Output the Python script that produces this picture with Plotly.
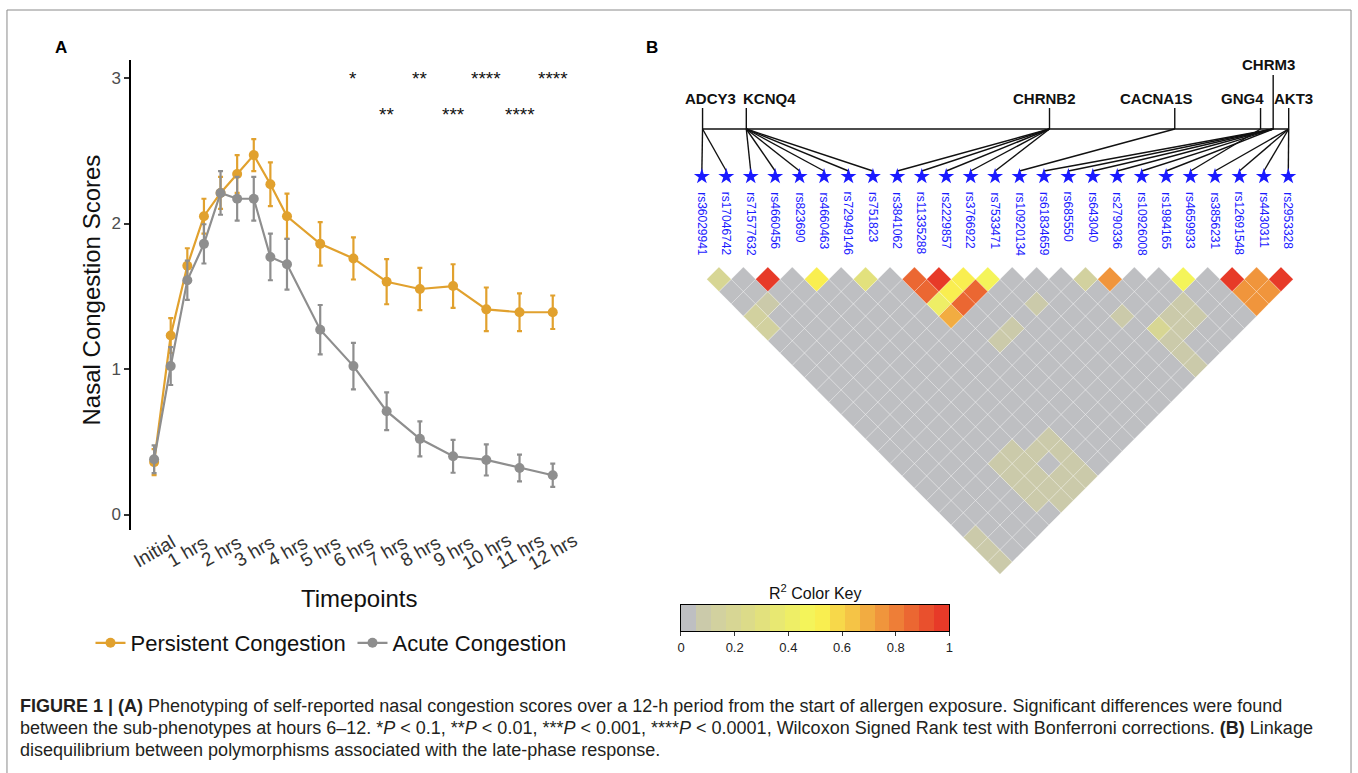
import plotly.graph_objects as go

W, H = 1358, 773
OFF = 0  # body margin is removed by the post script below
FONT = "Liberation Sans, Arial, sans-serif"

# ---------------- Panel A data ----------------
TIME_HOURS = [0, 0.5, 1, 1.5, 2, 2.5, 3, 3.5, 4, 5, 6, 7, 8, 9, 10, 11, 12]
PERSISTENT_MEAN = [0.36, 1.23, 1.71, 2.05, 2.21, 2.34, 2.47, 2.27, 2.05, 1.86, 1.76, 1.60, 1.55, 1.57, 1.41, 1.39, 1.39]
PERSISTENT_ERR = [0.09, 0.12, 0.12, 0.12, 0.11, 0.13, 0.11, 0.15, 0.155, 0.15, 0.145, 0.155, 0.145, 0.15, 0.15, 0.13, 0.115]
ACUTE_MEAN = [0.38, 1.02, 1.61, 1.86, 2.21, 2.17, 2.17, 1.77, 1.72, 1.27, 1.02, 0.71, 0.52, 0.40, 0.375, 0.32, 0.27]
ACUTE_ERR = [0.095, 0.13, 0.135, 0.135, 0.15, 0.15, 0.15, 0.16, 0.175, 0.17, 0.16, 0.13, 0.12, 0.113, 0.107, 0.092, 0.08]
TICK_HOURS = [0, 1, 2, 3, 4, 5, 6, 7, 8, 9, 10, 11, 12]
TICK_LABELS = ["Initial", "1 hrs", "2 hrs", "3 hrs", "4 hrs", "5 hrs", "6 hrs",
               "7 hrs", "8 hrs", "9 hrs", "10 hrs", "11 hrs", "12 hrs"]
Y_TICKS = [0, 1, 2, 3]
SIG_HOURS = [6, 7, 8, 9, 10, 11, 12]
SIG_LABELS = ["*", "**", "**", "***", "****", "****", "****"]
SERIES_NAMES = ["Persistent Congestion", "Acute Congestion"]

# ---------------- Panel B data ----------------
SNPS = ["rs36029941", "rs17046742", "rs71577632", "rs4660456", "rs823690", "rs4660463",
        "rs72949146", "rs751823", "rs3841062", "rs11335288", "rs2229857", "rs3766922",
        "rs7533471", "rs10920134", "rs61834659", "rs685550", "rs643040", "rs2790336",
        "rs10926008", "rs1984165", "rs4659933", "rs3856231", "rs12691548", "rs4430311",
        "rs2953328"]
GENES = ["ADCY3", "KCNQ4", "CHRNB2", "CACNA1S", "GNG4", "CHRM3", "AKT3"]
GENE_MEMBERS = [[0, 1], [2, 3, 4, 5, 6, 7], [8, 9, 10, 11, 12], [13], [20],
                [14, 15, 16, 17, 18, 19], [21, 22, 23, 24]]
# pairwise r^2 (i, j, r2); all other pairs are background
LD_PAIRS = [
    (0, 1, 0.20), (2, 3, 0.95), (4, 5, 0.52), (6, 7, 0.32), (1, 4, 0.07), (0, 4, 0.15), (0, 5, 0.15),
    (8, 9, 0.86), (9, 10, 0.95), (10, 11, 0.53), (11, 12, 0.47), (8, 10, 0.86), (9, 11, 0.51),
    (10, 12, 0.86), (8, 11, 0.42), (9, 12, 0.86), (8, 12, 0.69),
    (12, 15, 0.10), (10, 15, 0.10), (9, 15, 0.10), (15, 16, 0.12), (16, 17, 0.74), (19, 20, 0.46),
    (21, 22, 0.95), (22, 23, 0.74), (23, 24, 0.95), (21, 23, 0.74), (22, 24, 0.74), (21, 24, 0.74),
    (15, 19, 0.10), (16, 21, 0.20), (17, 21, 0.10), (18, 21, 0.10), (18, 22, 0.10), (17, 22, 0.10),
    (16, 22, 0.10), (16, 23, 0.10), (16, 24, 0.10),
    (4, 20, 0.10), (4, 21, 0.10), (4, 22, 0.10), (4, 23, 0.10), (5, 20, 0.10), (5, 21, 0.10),
    (5, 22, 0.10), (5, 23, 0.10), (5, 24, 0.10), (6, 21, 0.10), (6, 23, 0.10), (6, 24, 0.10),
    (7, 21, 0.10), (7, 22, 0.10), (7, 23, 0.10), (7, 24, 0.10),
    (0, 22, 0.10), (0, 23, 0.10), (0, 24, 0.10),
]
R2_BACKGROUND = 0.02
KEY_COLORS = ["#BEBFC2", "#CBCAAA", "#D2D19F", "#D7D694", "#DCDB89", "#E2E17D", "#E8E872",
              "#EEEE66", "#F4F45A", "#F9EE50", "#F7D84A", "#F5C446", "#F2AC41", "#F0953C",
              "#EE7E37", "#EB6732", "#E9502D", "#E73A28"]
KEY_TICKS = [0, 0.2, 0.4, 0.6, 0.8, 1]
KEY_TICK_TEXT = ["0", "0.2", "0.4", "0.6", "0.8", "1"]

CAPTION = [
    "<b>FIGURE 1 | (A)</b> Phenotyping of self-reported nasal congestion scores over a 12-h period from the start of allergen exposure. Significant differences were found",
    "between the sub-phenotypes at hours 6–12. *<i>P</i> &lt; 0.1, **<i>P</i> &lt; 0.01, ***<i>P</i> &lt; 0.001, ****<i>P</i> &lt; 0.0001, Wilcoxon Signed Rank test with Bonferroni corrections. <b>(B)</b> Linkage",
    "disequilibrium between polymorphisms associated with the late-phase response.",
]


# ---------------- helpers (screen pixel -> paper) ----------------
def px(p):
    return (p - OFF) / W


def py(p):
    return 1 - (p - OFF) / H


ORANGE = "#E1A12E"
GRAY = "#8E8E8E"

fig = go.Figure()

# ---- Panel A traces ----
for name, mean, err, col in [(SERIES_NAMES[0], PERSISTENT_MEAN, PERSISTENT_ERR, ORANGE),
                             (SERIES_NAMES[1], ACUTE_MEAN, ACUTE_ERR, GRAY)]:
    fig.add_trace(go.Scatter(
        x=TIME_HOURS, y=mean, name=name, mode="lines+markers",
        line=dict(color=col, width=2.2), marker=dict(color=col, size=10),
        error_y=dict(type="data", array=err, color=col, thickness=2.2, width=2.5),
        xaxis="x", yaxis="y", hoverinfo="skip"))

# A axes: hour 0 at 151px, hour 12 at 552px ; value 0 at 514.5px, 3 at 78px
A_L, A_R, A_T, A_B = 128, 578, 60, 530
hpx = (552 - 151) / 12.0
vpx = (514.5 - 78) / 3.0
xr = [(A_L - 151) / hpx, 12 + (A_R - 552) / hpx]
yr = [(514.5 - A_B) / vpx, (514.5 - A_T) / vpx]


def ann(x, y, text, size, color="#111111", xref="paper", yref="paper", angle=0,
        xanchor="center", yanchor="middle"):
    return dict(x=x, y=y, xref=xref, yref=yref, text=text, showarrow=False, textangle=angle,
                xanchor=xanchor, yanchor=yanchor, font=dict(size=size, color=color, family=FONT))


annotations = []
for h, lab in zip(TICK_HOURS, TICK_LABELS):
    annotations.append(ann(h, py(551), lab, 19, "#333333", xref="x", angle=-30))
for k, (h, lab) in enumerate(zip(SIG_HOURS, SIG_LABELS)):
    yv = 3.0 if k % 2 == 0 else 2.75
    annotations.append(ann(h, yv, lab, 19, "#111111", xref="x", yref="y"))
annotations.append(ann(px(88), py(290), "Nasal Congestion Scores", 24, angle=-90))
annotations.append(ann(px(357), py(598), "Timepoints", 24))
annotations.append(ann(px(57), py(47), "<b>A</b>", 17, "#000000"))
annotations.append(ann(px(652), py(47), "<b>B</b>", 17, "#000000"))

# ---- Panel B geometry (units of SNP spacing) ----
B_X0, B_S, B_Y0 = 702.0, 24.58, 267.0
HM_DX = 0.2


def bx(p):
    return (p - B_X0) / B_S


def bu(p):
    return (p - B_Y0) / B_S


nb = len(KEY_COLORS)
r2 = {(i, j): v for i, j, v in LD_PAIRS}
polys = {k: ([], []) for k in range(nb)}
n = len(SNPS)
for i in range(n):
    for j in range(i + 1, n):
        v = r2.get((i, j), R2_BACKGROUND)
        k = min(int(v * nb), nb - 1)
        cx = (i + j) / 2 + HM_DX
        cy = (j - i) / 2
        polys[k][0].extend([cx, cx + 0.5, cx, cx - 0.5, cx, None])
        polys[k][1].extend([cy - 0.5, cy, cy + 0.5, cy, cy - 0.5, None])
for k in range(nb):
    xs, ys = polys[k]
    if not xs:
        continue
    fig.add_trace(go.Scatter(x=xs, y=ys, mode="lines", fill="toself", fillcolor=KEY_COLORS[k],
                             line=dict(color="rgba(255,255,255,0.35)", width=0.7),
                             xaxis="x2", yaxis="y2", showlegend=False, hoverinfo="skip"))

# gene connectors
GENE_LABEL_POS = {"ADCY3": (711, 98), "KCNQ4": (770, 98), "CHRNB2": (1046.7, 98),
                  "CACNA1S": (1159, 98), "GNG4": (1246, 98), "CHRM3": (1272, 64), "AKT3": (1297, 98)}
GENE_ANCHOR_X = {"ADCY3": 702.7, "KCNQ4": 746.7, "CHRNB2": 1051.7, "CACNA1S": 1177.7,
                 "GNG4": 1264, "CHRM3": 1276.7, "AKT3": 1292.3}
BUS_Y = 129
STAR_Y = 176.5
STAR_TOP = 171
lx, ly = [], []
anchors = [bx(GENE_ANCHOR_X[g]) for g in GENES]
lx += [min(anchors), max(anchors), None]
ly += [bu(BUS_Y), bu(BUS_Y), None]
for g, members in zip(GENES, GENE_MEMBERS):
    ax = bx(GENE_ANCHOR_X[g])
    top = 75 if g == "CHRM3" else 108
    lx += [ax, ax, None]
    ly += [bu(top), bu(BUS_Y), None]
    for m in members:
        lx += [ax, m, None]
        ly += [bu(BUS_Y), bu(STAR_TOP), None]
fig.add_trace(go.Scatter(x=lx, y=ly, mode="lines", line=dict(color="#111111", width=1.4),
                         xaxis="x2", yaxis="y2", showlegend=False, hoverinfo="skip"))
fig.add_trace(go.Scatter(x=list(range(n)), y=[bu(STAR_Y)] * n, mode="markers",
                         marker=dict(symbol="star", size=12, color="#1a1aff", line=dict(width=0)),
                         xaxis="x2", yaxis="y2", showlegend=False, hoverinfo="skip"))
for k, s in enumerate(SNPS):
    annotations.append(ann(k, bu(190), s, 12, "#1a1aff", xref="x2", yref="y2", angle=90,
                           yanchor="top"))
for g in GENES:
    gx, gy = GENE_LABEL_POS[g]
    annotations.append(ann(bx(gx), bu(gy), "<b>%s</b>" % g, 15, "#111111", xref="x2", yref="y2"))

# ---- Color key ----
edges = [k / nb for k in range(nb + 1)]
cs = []
for k, c in enumerate(KEY_COLORS):
    cs.append([k / nb, c])
    cs.append([(k + 1) / nb, c])
fig.add_trace(go.Heatmap(x=edges, y=[0, 1], z=[[k + 0.5 for k in range(nb)]], zmin=0, zmax=nb,
                         colorscale=cs, showscale=False, xaxis="x3", yaxis="y3", hoverinfo="skip"))
annotations.append(ann(px(816), py(592), "R<sup>2</sup> Color Key", 16))

# ---- Caption ----
for k, line in enumerate(CAPTION):
    annotations.append(ann(px(14), py(706 + 22 * k), line, 18, "#231F20", xanchor="left"))

fig.update_layout(
    width=W, height=H, margin=dict(l=0, r=0, t=0, b=0),
    paper_bgcolor="white", plot_bgcolor="rgba(0,0,0,0)",
    font=dict(family=FONT),
    xaxis=dict(domain=[px(A_L), px(A_R)], range=xr, anchor="y", showline=False, showgrid=False,
               zeroline=False, showticklabels=False, ticks=""),
    yaxis=dict(domain=[py(A_B), py(A_T)], range=yr, anchor="x", showline=True, linecolor="#000000",
               linewidth=2, showgrid=False, zeroline=False, tickvals=Y_TICKS, ticks="outside",
               ticklen=5, tickwidth=1.5, tickcolor="#333333",
               tickfont=dict(size=17, color="#4D4D4D", family=FONT)),
    xaxis2=dict(domain=[0, 1], range=[bx(OFF), bx(W + OFF)], anchor="y2", visible=False),
    yaxis2=dict(domain=[0, 1], range=[bu(H + OFF), bu(OFF)], anchor="x2", visible=False),
    xaxis3=dict(domain=[px(681), px(951)], range=[0, 1], anchor="y3", side="bottom",
                tickvals=KEY_TICKS, ticktext=KEY_TICK_TEXT,
                ticks="outside", ticklen=4, tickcolor="#333333", showline=True, mirror=True,
                linecolor="#000000", linewidth=1, showgrid=False, zeroline=False,
                tickfont=dict(size=13, color="#222222", family=FONT)),
    yaxis3=dict(domain=[py(631), py(605)], range=[0, 1], anchor="x3", showticklabels=False,
                ticks="", showline=True, mirror=True, linecolor="#000000", linewidth=1,
                showgrid=False, zeroline=False),
    legend=dict(orientation="h", x=px(87), y=py(622), xanchor="left", yanchor="top",
                font=dict(size=22, color="#111111", family=FONT), bgcolor="rgba(0,0,0,0)",
                itemwidth=30, entrywidth=217, entrywidthmode="pixels"),
    annotations=annotations,
    shapes=[dict(type="rect", xref="paper", yref="paper", x0=px(3), x1=px(1355), y0=py(800),
                 y1=py(10), line=dict(color="#8A8A8A", width=1), layer="below")],
)

fig.write_html("out.html", config={"displayModeBar": False},
               post_script="document.body.style.margin='0px';")
